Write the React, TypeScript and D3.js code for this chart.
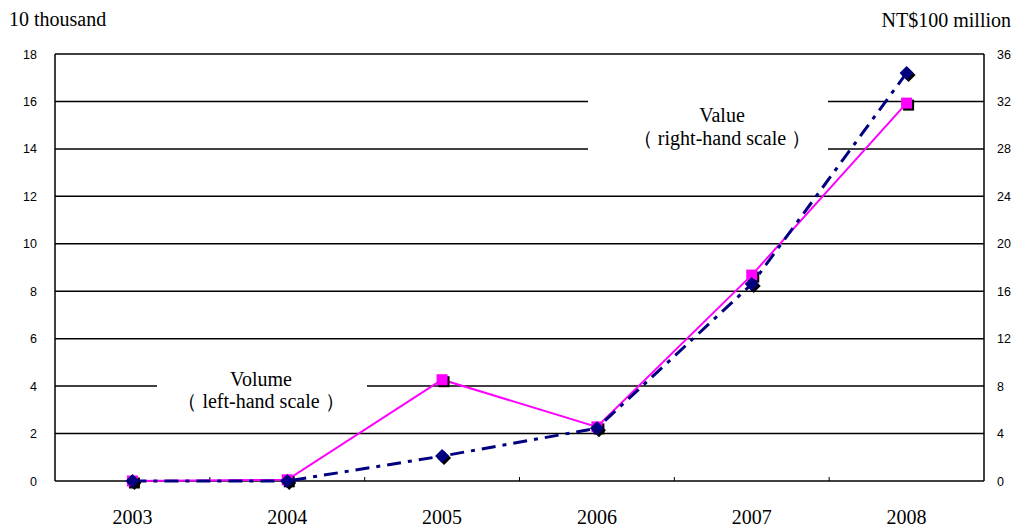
import React from "react";
import * as d3 from "d3";

const years = ["2003", "2004", "2005", "2006", "2007", "2008"];
const volume = [0, 0.05, 4.27, 2.28, 8.68, 15.93];
const value = [0, 0, 2.1, 4.45, 16.6, 34.4];
const leftTicks = [0, 2, 4, 6, 8, 10, 12, 14, 16, 18];
const rightTicks = [0, 4, 8, 12, 16, 20, 24, 28, 32, 36];

const W = 1019, H = 528;
const M = { left: 55, right: 984, top: 54, bottom: 481 };

export default function App() {
  const x = d3.scaleBand<string>().domain(years).range([M.left, M.right]).paddingInner(0).paddingOuter(0);
  const yL = d3.scaleLinear().domain([0, 18]).range([M.bottom, M.top]);
  const yR = d3.scaleLinear().domain([0, 36]).range([M.bottom, M.top]);
  const cx = (d: string) => (x(d) as number) + x.bandwidth() / 2;

  const lineL = d3.line<number>().x((_, i) => cx(years[i])).y((d) => yL(d));
  const lineR = d3.line<number>().x((_, i) => cx(years[i])).y((d) => yR(d));

  const gaps: Record<number, [number, number][]> = {
    4: [[157, 367]],
    14: [[588, 828]],
    16: [[588, 828]],
  };

  const grid = leftTicks.filter((t) => t > 0 && t < 18).map((t) => {
    const segs: [number, number][] = [];
    let start = M.left;
    (gaps[t] || []).forEach(([a, b]) => {
      segs.push([start, a]);
      start = b;
    });
    segs.push([start, M.right]);
    return segs.map(([a, b], j) => (
      <line key={`g${t}-${j}`} x1={a} x2={b} y1={yL(t)} y2={yL(t)} stroke="#000" strokeWidth={1.5} />
    ));
  });

  const sans = "'Liberation Sans', Arial, sans-serif";
  const serif = "'Liberation Serif', 'Times New Roman', serif";

  return (
    <svg width={W} height={H} style={{ position: "absolute", left: 0, top: 0, background: "#fff" }}>
      <rect x={0} y={0} width={W} height={H} fill="#fff" />
      <text x={9} y={26} fontFamily={serif} fontSize={20}>10 thousand</text>
      <text x={1011} y={27} fontFamily={serif} fontSize={20} textAnchor="end">NT$100 million</text>

      {grid}
      <line x1={M.left} x2={M.right} y1={M.top} y2={M.top} stroke="#000" strokeWidth={1.5} />
      <line x1={M.left} x2={M.left} y1={M.top} y2={M.bottom} stroke="#000" strokeWidth={1.5} />
      <line x1={M.right} x2={M.right} y1={M.top} y2={M.bottom} stroke="#000" strokeWidth={1.5} />
      <line x1={M.left} x2={M.right} y1={M.bottom} y2={M.bottom} stroke="#000" strokeWidth={1.5} />
      {years.slice(1).map((y) => (
        <line key={`xt${y}`} x1={x(y)} x2={x(y)} y1={M.bottom} y2={M.bottom - 4} stroke="#000" strokeWidth={1} />
      ))}

      {leftTicks.map((t) => (
        <text key={`l${t}`} x={37} y={yL(t) + 4.5} fontFamily={sans} fontSize={12.5} textAnchor="end">{t}</text>
      ))}
      {rightTicks.map((t) => (
        <text key={`r${t}`} x={997} y={yR(t) + 4.5} fontFamily={sans} fontSize={12.5}>{t}</text>
      ))}
      {years.map((y) => (
        <text key={`x${y}`} x={cx(y)} y={524} fontFamily={serif} fontSize={20} textAnchor="middle">{y}</text>
      ))}

      <text x={261} y={386} fontFamily={serif} fontSize={20} textAnchor="middle">Volume</text>
      <text x={261} y={408} fontFamily={serif} fontSize={20} textAnchor="middle">（ left-hand scale ）</text>
      <text x={722} y={122} fontFamily={serif} fontSize={20} textAnchor="middle">Value</text>
      <text x={722} y={145} fontFamily={serif} fontSize={20} textAnchor="middle">（ right-hand scale ）</text>

      <path d={lineL(volume) || ""} fill="none" stroke="#FF00FF" strokeWidth={2} />
      {volume.map((v, i) => (
        <g key={`s${i}`}>
          <rect x={cx(years[i]) - 5.5 + 2} y={yL(v) - 5.5 + 2} width={11} height={11} fill="#000" />
          <rect x={cx(years[i]) - 5.5} y={yL(v) - 5.5} width={11} height={11} fill="#FF00FF" />
        </g>
      ))}

      <path d={lineR(value) || ""} fill="none" stroke="#000080" strokeWidth={3} strokeDasharray="14,7,4,7" />
      {value.map((v, i) => {
        const px = cx(years[i]);
        const py = yR(v);
        const d = (ox: number, oy: number) =>
          `M${px + ox},${py - 7 + oy}L${px + 7 + ox},${py + oy}L${px + ox},${py + 7 + oy}L${px - 7 + ox},${py + oy}Z`;
        return (
          <g key={`d${i}`}>
            <path d={d(2, 2)} fill="#000" />
            <path d={d(0, 0)} fill="#000080" />
          </g>
        );
      })}
    </svg>
  );
}
